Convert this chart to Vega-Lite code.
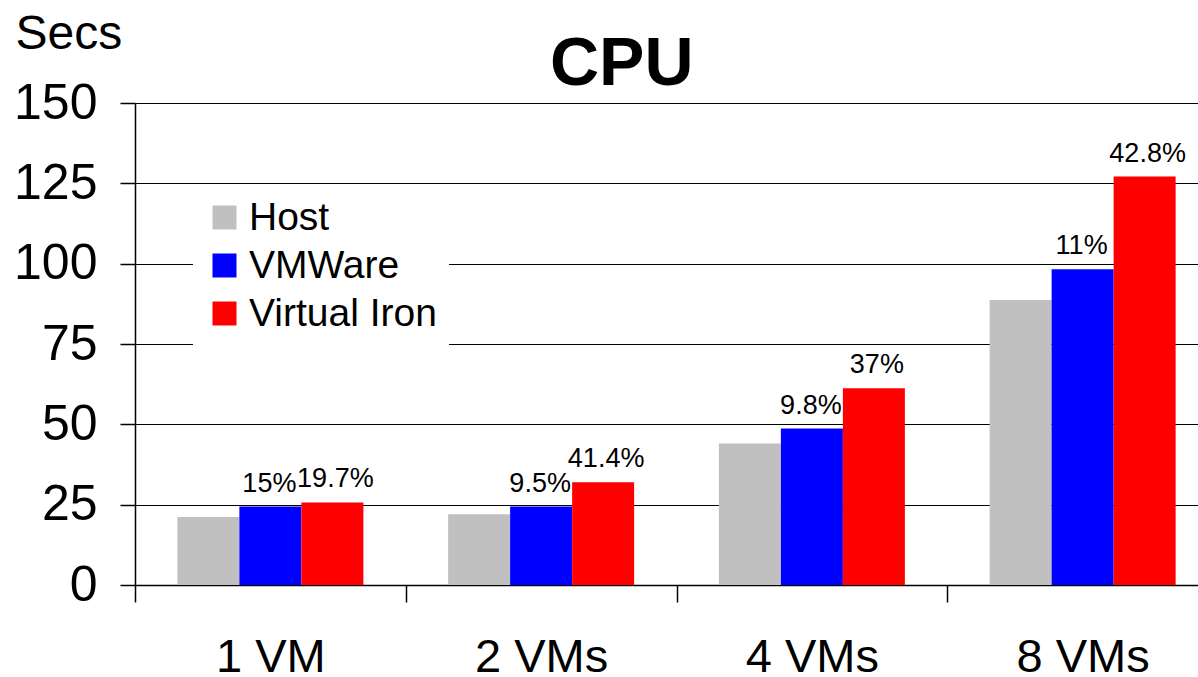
{
  "$schema": "https://vega.github.io/schema/vega-lite/v6.json",
  "width": 1063,
  "height": 482,
  "autosize": {"type": "none"},
  "padding": {"left": 135, "top": 103, "right": 0, "bottom": 92},
  "background": "white",
  "config": {"font": "Liberation Sans", "view": {"stroke": null}},
  "title": {
    "text": "CPU",
    "fontSize": 68,
    "fontWeight": "bold",
    "font": "Liberation Sans",
    "color": "#000000",
    "anchor": "start",
    "frame": "group",
    "dx": 415,
    "offset": -143,
    "baseline": "alphabetic"
  },
  "data": {
    "values": [
      {"config": "1 VM", "series": "Host", "secs": 21.2, "pct": null},
      {"config": "1 VM", "series": "VMWare", "secs": 24.4, "pct": "15%"},
      {"config": "1 VM", "series": "Virtual Iron", "secs": 25.7, "pct": "19.7%"},
      {"config": "2 VMs", "series": "Host", "secs": 22.0, "pct": null},
      {"config": "2 VMs", "series": "VMWare", "secs": 24.4, "pct": "9.5%"},
      {"config": "2 VMs", "series": "Virtual Iron", "secs": 32.0, "pct": "41.4%"},
      {"config": "4 VMs", "series": "Host", "secs": 44.0, "pct": null},
      {"config": "4 VMs", "series": "VMWare", "secs": 48.7, "pct": "9.8%"},
      {"config": "4 VMs", "series": "Virtual Iron", "secs": 61.2, "pct": "37%"},
      {"config": "8 VMs", "series": "Host", "secs": 88.7, "pct": null},
      {"config": "8 VMs", "series": "VMWare", "secs": 98.3, "pct": "11%"},
      {"config": "8 VMs", "series": "Virtual Iron", "secs": 127.1, "pct": "42.8%"}
    ]
  },
  "encoding": {
    "x": {
      "field": "config",
      "type": "nominal",
      "sort": ["1 VM", "2 VMs", "4 VMs", "8 VMs"],
      "scale": {"range": [0, 1083], "paddingInner": 0, "paddingOuter": 0},
      "axis": {
        "title": null,
        "domainColor": "#000000",
        "domainWidth": 1.5,
        "tickColor": "#000000",
        "tickSize": 17,
        "tickWidth": 1.5,
        "tickBand": "extent",
        "labelFontSize": 47,
        "labelColor": "#000000",
        "labelPadding": 32,
        "labelAngle": 0
      }
    },
    "xOffset": {
      "field": "series",
      "type": "nominal",
      "sort": ["Host", "VMWare", "Virtual Iron"],
      "scale": {"paddingInner": 0, "paddingOuter": 0.6835}
    },
    "y": {
      "field": "secs",
      "type": "quantitative",
      "scale": {"domain": [0, 150], "nice": false},
      "axis": {
        "values": [0, 25, 50, 75, 100, 125, 150],
        "grid": true,
        "gridColor": "#000000",
        "gridWidth": 1.2,
        "gridOpacity": 1,
        "domainColor": "#000000",
        "domainWidth": 1.5,
        "tickColor": "#000000",
        "tickSize": 15,
        "tickWidth": 1.5,
        "labelFontSize": 50,
        "labelColor": "#000000",
        "labelPadding": 23,
        "title": "Secs",
        "titleAngle": 0,
        "titleAlign": "left",
        "titleBaseline": "alphabetic",
        "titleX": -120,
        "titleY": -55,
        "titleFontSize": 48,
        "titleFontWeight": "normal",
        "titleColor": "#000000"
      }
    }
  },
  "layer": [
    {
      "mark": {"type": "bar"},
      "encoding": {
        "color": {
          "field": "series",
          "type": "nominal",
          "sort": ["Host", "VMWare", "Virtual Iron"],
          "scale": {"domain": ["Host", "VMWare", "Virtual Iron"], "range": ["#C0C0C0", "#0000FF", "#FF0000"]},
          "legend": {
            "title": null,
            "orient": "none",
            "legendX": 58,
            "legendY": 83,
            "fillColor": "white",
            "padding": 12,
            "symbolType": "square",
            "symbolSize": 576,
            "symbolStrokeWidth": 0,
            "symbolOpacity": 1,
            "labelFontSize": 39,
            "labelColor": "#000000",
            "labelOffset": 5,
            "labelLimit": 400,
            "rowPadding": 8
          }
        }
      }
    },
    {
      "transform": [{"filter": "datum.series == 'VMWare'"}],
      "mark": {"type": "text", "baseline": "bottom", "dy": -9, "dx": -1, "fontSize": 27, "color": "#000000"},
      "encoding": {"text": {"field": "pct", "type": "nominal"}}
    },
    {
      "transform": [{"filter": "datum.series == 'Virtual Iron'"}],
      "mark": {"type": "text", "baseline": "bottom", "dy": -9, "dx": 3, "fontSize": 27, "color": "#000000"},
      "encoding": {"text": {"field": "pct", "type": "nominal"}}
    }
  ]
}
